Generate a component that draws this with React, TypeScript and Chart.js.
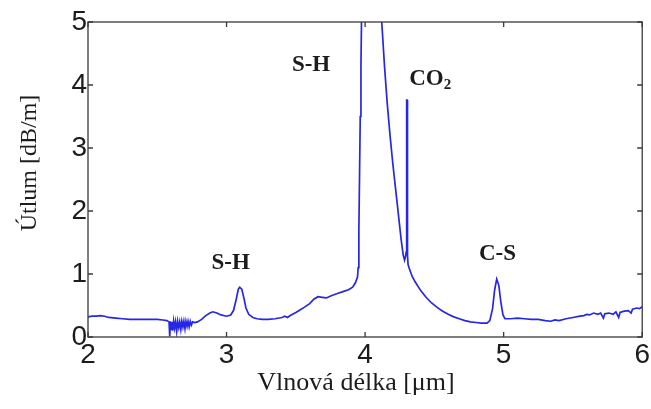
import React, { useEffect, useRef } from "react";
import { Chart, registerables } from "chart.js";

Chart.register(...registerables);

// Attenuation spectrum of the fibre: wavelength [µm] vs. loss [dB/m]
const wavelength = [
  2.0, 2.03, 2.06, 2.09, 2.12, 2.15, 2.2, 2.25, 2.3, 2.35, 2.4, 2.45, 2.5, 2.54, 2.57,
  2.585, 2.59, 2.595, 2.6, 2.605, 2.612, 2.618, 2.625, 2.632, 2.64, 2.647, 2.655, 2.662,
  2.67, 2.677, 2.685, 2.692, 2.7, 2.707, 2.715, 2.722, 2.73, 2.738, 2.746, 2.755, 2.77,
  2.79, 2.82, 2.85, 2.88, 2.9, 2.93, 2.96,
  3.0, 3.03, 3.05, 3.07, 3.085, 3.095, 3.11, 3.125, 3.14, 3.16, 3.19, 3.22, 3.26, 3.3,
  3.35, 3.4, 3.42, 3.44, 3.46, 3.5, 3.53, 3.56, 3.6, 3.63, 3.66, 3.69, 3.72, 3.76, 3.8,
  3.84, 3.88, 3.91, 3.93, 3.945, 3.95, 3.955, 3.96, 3.965, 3.97, 3.975, 3.99, 4.02, 4.05,
  4.08, 4.11, 4.12, 4.14, 4.16, 4.18, 4.2, 4.22, 4.24, 4.26, 4.275, 4.285, 4.292, 4.297,
  4.3, 4.303, 4.306, 4.31, 4.32, 4.34, 4.36, 4.4, 4.44, 4.48, 4.52, 4.56, 4.6, 4.64, 4.68,
  4.72, 4.76, 4.8, 4.84, 4.88, 4.9, 4.92, 4.935, 4.95, 4.965, 4.98, 4.995, 5.01, 5.05, 5.1,
  5.15, 5.2, 5.25, 5.3, 5.34, 5.37, 5.4, 5.45, 5.5, 5.55, 5.58, 5.6, 5.62, 5.65, 5.68, 5.7,
  5.72, 5.73, 5.76, 5.79, 5.81, 5.83, 5.84, 5.87, 5.9, 5.92, 5.93, 5.96, 5.98, 6.0,
];

const attenuation = [
  0.32, 0.33, 0.33, 0.34, 0.33, 0.31, 0.3, 0.29, 0.28, 0.28, 0.28, 0.28, 0.28, 0.27, 0.26,
  0.24, 0.01, 0.25, 0.12, 0.24, 0.1, 0.25, 0.14, 0.24, 0.09, 0.25, 0.15, 0.24,
  0.12, 0.25, 0.16, 0.25, 0.13, 0.25, 0.17, 0.25, 0.16, 0.25, 0.19, 0.24, 0.23,
  0.24, 0.28, 0.34, 0.38, 0.4, 0.38, 0.35,
  0.33, 0.35, 0.42, 0.6, 0.76, 0.79, 0.76, 0.62, 0.46, 0.36, 0.31, 0.29, 0.28, 0.28,
  0.29, 0.31, 0.33, 0.31, 0.34, 0.39, 0.43, 0.47, 0.53, 0.6, 0.64, 0.63, 0.62, 0.66, 0.69,
  0.72, 0.75, 0.79, 0.86, 0.95, 1.1, 1.7, 2.6, 3.5, 4.3, 5.2, 6.5, 7.5, 7.8,
  7.0, 5.6, 5.0, 4.3, 3.7, 3.2, 2.75, 2.35, 1.95, 1.55, 1.3, 1.22, 1.28, 1.35,
  3.76, 3.76, 1.3, 1.15, 1.08, 0.96, 0.88, 0.74, 0.63, 0.54, 0.47, 0.41, 0.36, 0.32, 0.29,
  0.26, 0.24, 0.23, 0.22, 0.22, 0.26, 0.45, 0.75, 0.92, 0.82, 0.55, 0.35, 0.29, 0.29, 0.3,
  0.29, 0.28, 0.28, 0.26, 0.25, 0.27, 0.26, 0.29, 0.31, 0.33, 0.34, 0.36, 0.35, 0.38, 0.36, 0.38,
  0.3, 0.37, 0.38, 0.36, 0.4, 0.31, 0.39, 0.41, 0.42, 0.38, 0.44, 0.46, 0.45, 0.48,
];

const xTicks = [2, 3, 4, 5, 6];
const yTicks = [0, 1, 2, 3, 4, 5];

// Absorption band labels, placed in data coordinates
const bandNames = ["S-H", "S-H", "CO", "C-S"];
const bandSubscripts = ["", "", "2", ""];
const bandX = [3.03, 3.61, 4.47, 4.955];
const bandY = [1.17, 4.32, 4.1, 1.32];

const xTitle = "Vlnová délka [μm]";
const yTitle = "Útlum [dB/m]";

const INK = "#1c1c1c";
const FRAME = "#3a3a3a";

const framePlugin = {
  id: "frameAndLabels",
  afterDraw(chart: any) {
    const { ctx, chartArea: a, scales } = chart;
    const xs = scales.x;
    const ys = scales.y;
    ctx.save();
    // box
    ctx.strokeStyle = FRAME;
    ctx.lineWidth = 1.3;
    ctx.strokeRect(a.left, a.top, a.right - a.left, a.bottom - a.top);
    // inward tick marks on all four sides
    const len = 5;
    ctx.beginPath();
    for (const v of xTicks) {
      const px = xs.getPixelForValue(v);
      ctx.moveTo(px, a.bottom);
      ctx.lineTo(px, a.bottom - len);
      ctx.moveTo(px, a.top);
      ctx.lineTo(px, a.top + len);
    }
    for (const v of yTicks) {
      const py = ys.getPixelForValue(v);
      ctx.moveTo(a.left, py);
      ctx.lineTo(a.left + len, py);
      ctx.moveTo(a.right, py);
      ctx.lineTo(a.right - len, py);
    }
    ctx.stroke();

    // axis titles
    ctx.fillStyle = INK;
    ctx.textAlign = "center";
    ctx.textBaseline = "middle";
    ctx.font = "26px 'Liberation Serif', 'Times New Roman', serif";
    ctx.fillText(xTitle, 356, 383);
    ctx.save();
    ctx.translate(30, 163);
    ctx.rotate(-Math.PI / 2);
    ctx.font = "24px 'Liberation Serif', 'Times New Roman', serif";
    ctx.fillText(yTitle, 0, 0);
    ctx.restore();

    // band annotations
    const mainFont = "bold 23px 'Liberation Serif', 'Times New Roman', serif";
    const subFont = "bold 15px 'Liberation Serif', 'Times New Roman', serif";
    for (let i = 0; i < bandNames.length; i++) {
      const cx = xs.getPixelForValue(bandX[i]);
      const cy = ys.getPixelForValue(bandY[i]);
      ctx.font = mainFont;
      const w1 = ctx.measureText(bandNames[i]).width;
      ctx.font = subFont;
      const w2 = bandSubscripts[i] ? ctx.measureText(bandSubscripts[i]).width : 0;
      const startX = cx - (w1 + w2) / 2;
      ctx.textAlign = "left";
      ctx.font = mainFont;
      ctx.fillText(bandNames[i], startX, cy);
      if (bandSubscripts[i]) {
        ctx.font = subFont;
        ctx.fillText(bandSubscripts[i], startX + w1, cy + 6);
      }
    }
    ctx.restore();
  },
};

export default function App() {
  const canvasRef = useRef<HTMLCanvasElement | null>(null);

  useEffect(() => {
    const canvas = canvasRef.current;
    if (!canvas) return;
    const points = wavelength.map((x, i) => ({ x, y: attenuation[i] }));
    const tickFont = { family: "'Liberation Sans', Arial, sans-serif", size: 28 };
    const chart = new Chart(canvas, {
      type: "line",
      data: {
        datasets: [
          {
            data: points,
            borderColor: "#2626e6",
            borderWidth: 1.7,
            pointRadius: 0,
            tension: 0,
            fill: false,
          },
        ],
      },
      options: {
        animation: false,
        responsive: false,
        events: [],
        layout: { padding: { left: 0, top: 22, right: 8, bottom: 0 } },
        plugins: { legend: { display: false }, tooltip: { enabled: false } },
        scales: {
          x: {
            type: "linear",
            min: 2,
            max: 6,
            afterFit: (s: any) => {
              s.height = 72;
            },
            afterBuildTicks: (s: any) => {
              s.ticks = xTicks.map((v) => ({ value: v }));
            },
            ticks: { font: tickFont, color: INK, padding: 1, maxRotation: 0, autoSkip: false },
            grid: { display: false, drawTicks: false },
            border: { display: false },
          },
          y: {
            type: "linear",
            min: 0,
            max: 5,
            afterFit: (s: any) => {
              s.width = 88;
            },
            afterBuildTicks: (s: any) => {
              s.ticks = yTicks.map((v) => ({ value: v }));
            },
            ticks: { font: tickFont, color: INK, padding: 1, autoSkip: false },
            grid: { display: false, drawTicks: false },
            border: { display: false },
          },
        },
      },
      plugins: [framePlugin],
    });
    return () => chart.destroy();
  }, []);

  return (
    <div style={{ position: "absolute", left: 0, top: 0, width: 651, height: 409, background: "#fff" }}>
      <canvas ref={canvasRef} width={651} height={409} />
    </div>
  );
}
